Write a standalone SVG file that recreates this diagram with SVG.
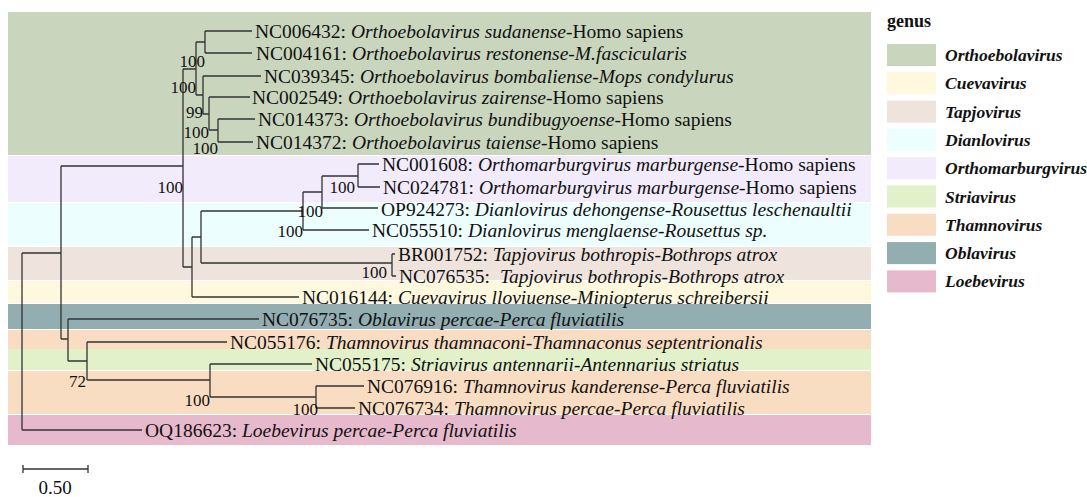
<svg xmlns="http://www.w3.org/2000/svg" width="1087" height="497" viewBox="0 0 1087 497">
<style>
text{font-family:"Liberation Serif","Times New Roman",serif;fill:#111}
.leaf{font-size:19.5px}
.bs{font-size:17px;text-anchor:end}
.i{font-style:italic}
.br{fill:none;stroke:#333;stroke-width:1.3}
.lg{font-size:17.5px;font-weight:bold;font-style:italic}
</style>
<rect width="1087" height="497" fill="#fff"/>
<g id="bands">
<rect x="8" y="12" width="863" height="143" fill="#c9d6bd"/>
<rect x="8" y="156" width="863" height="46" fill="#f1ebfc"/>
<rect x="8" y="203" width="863" height="43" fill="#edfefe"/>
<rect x="8" y="247" width="863" height="33" fill="#efe4dd"/>
<rect x="8" y="281" width="863" height="22" fill="#fef8df"/>
<rect x="8" y="304" width="863" height="25" fill="#92aeb1"/>
<rect x="8" y="330" width="863" height="19" fill="#f9ddc2"/>
<rect x="8" y="349" width="863" height="21" fill="#e2f1c9"/>
<rect x="8" y="371" width="863" height="43" fill="#f9ddc2"/>
<rect x="8" y="415" width="863" height="30" fill="#e6b9cd"/>
</g>
<g id="connectors" class="br">
<path d="M205,31V53M205,31H252M205,53H252M196,42H205"/>
<path d="M196,42V95M203,76H261M203,76V114M196,95H203"/>
<path d="M209,97H250M209,97V130M203,114H209"/>
<path d="M218,119V142M209,130H218M218,119H255M218,142H253"/>
<path d="M183,69H196M183,69V267M61,166H183"/>
<path d="M192,237V297M183,267H192M192,297H299"/>
<path d="M201,211V263M192,237H201M201,263H392M392,254V276M392,254H395M392,276H396"/>
<path d="M303,192V230M201,211H303M303,230H369"/>
<path d="M322,176V208M303,192H322M322,208H378"/>
<path d="M358,164V187M322,176H358M358,164H379M358,187H380"/>
<path d="M61,166V339M22,253H61"/>
<path d="M68,319V361M61,339H68M68,319H259"/>
<path d="M87,342V380M68,361H87M87,342H227"/>
<path d="M210,364V397M87,380H210M210,364H312"/>
<path d="M316,386V408M210,397H316M316,386H364M316,408H355"/>
<path d="M22,253V430M22,430H142"/>
</g>
<g id="bootstrap">
<text class="bs" x="205" y="67">100</text>
<text class="bs" x="196" y="93">100</text>
<text class="bs" x="203" y="118">99</text>
<text class="bs" x="209" y="138">100</text>
<text class="bs" x="218" y="154">100</text>
<text class="bs" x="183" y="193">100</text>
<text class="bs" x="355" y="193">100</text>
<text class="bs" x="323" y="217">100</text>
<text class="bs" x="303" y="237">100</text>
<text class="bs" x="387" y="278">100</text>
<text class="bs" x="86" y="387">72</text>
<text class="bs" x="210" y="406">100</text>
<text class="bs" x="318" y="415">100</text>
</g>
<g id="NC006432"><text class="leaf" x="255" y="37.5">NC006432: <tspan class="i">Orthoebolavirus sudanense</tspan>-Homo sapiens</text></g>
<g id="NC004161"><text class="leaf" x="256" y="59.5">NC004161: <tspan class="i">Orthoebolavirus restonense-M.fascicularis</tspan></text></g>
<g id="NC039345"><text class="leaf" x="264" y="82.5">NC039345: <tspan class="i">Orthoebolavirus bombaliense-Mops condylurus</tspan></text></g>
<g id="NC002549"><text class="leaf" x="252" y="103.5">NC002549: <tspan class="i">Orthoebolavirus zairense</tspan>-Homo sapiens</text></g>
<g id="NC014373"><text class="leaf" x="258" y="125.5">NC014373: <tspan class="i">Orthoebolavirus bundibugyoense</tspan>-Homo sapiens</text></g>
<g id="NC014372"><text class="leaf" x="256" y="148.5">NC014372: <tspan class="i">Orthoebolavirus taiense</tspan>-Homo sapiens</text></g>
<g id="NC001608"><text class="leaf" x="382" y="170.5">NC001608: <tspan class="i">Orthomarburgvirus marburgense</tspan>-Homo sapiens</text></g>
<g id="NC024781"><text class="leaf" x="383" y="193.5">NC024781: <tspan class="i">Orthomarburgvirus marburgense</tspan>-Homo sapiens</text></g>
<g id="OP924273"><text class="leaf" x="381" y="215.5">OP924273: <tspan class="i">Dianlovirus dehongense-Rousettus leschenaultii</tspan></text></g>
<g id="NC055510"><text class="leaf" x="372" y="236.5">NC055510: <tspan class="i">Dianlovirus menglaense-Rousettus sp.</tspan></text></g>
<g id="BR001752"><text class="leaf" x="398" y="260.5">BR001752: <tspan class="i">Tapjovirus bothropis-Bothrops atrox</tspan></text></g>
<g id="NC076535"><text class="leaf" x="399" y="282.5">NC076535: <tspan class="i" dx="5">Tapjovirus bothropis-Bothrops atrox</tspan></text></g>
<g id="NC016144"><text class="leaf" x="302" y="303.5">NC016144: <tspan class="i">Cuevavirus lloviuense-Miniopterus schreibersii</tspan></text></g>
<g id="NC076735"><text class="leaf" x="262" y="325.5">NC076735: <tspan class="i">Oblavirus percae-Perca fluviatilis</tspan></text></g>
<g id="NC055176"><text class="leaf" x="230" y="348.5">NC055176: <tspan class="i">Thamnovirus thamnaconi-Thamnaconus septentrionalis</tspan></text></g>
<g id="NC055175"><text class="leaf" x="315" y="370.5">NC055175: <tspan class="i">Striavirus antennarii-Antennarius striatus</tspan></text></g>
<g id="NC076916"><text class="leaf" x="367" y="392.5">NC076916: <tspan class="i">Thamnovirus kanderense-Perca fluviatilis</tspan></text></g>
<g id="NC076734"><text class="leaf" x="358" y="414.5">NC076734: <tspan class="i">Thamnovirus percae-Perca fluviatilis</tspan></text></g>
<g id="OQ186623"><text class="leaf" x="145" y="436.5">OQ186623: <tspan class="i">Loebevirus percae-Perca fluviatilis</tspan></text></g>
<g id="legend">
<text x="887" y="27" style="font-size:18px;font-weight:bold">genus</text>
<rect x="887" y="44" width="49" height="22" fill="#c9d6bd"/><text class="lg" x="945" y="61">Orthoebolavirus</text>
<rect x="887" y="72.3" width="49" height="22" fill="#fef8df"/><text class="lg" x="945" y="89.3">Cuevavirus</text>
<rect x="887" y="100.6" width="49" height="22" fill="#efe4dd"/><text class="lg" x="945" y="117.6">Tapjovirus</text>
<rect x="887" y="128.9" width="49" height="22" fill="#edfefe"/><text class="lg" x="945" y="145.9">Dianlovirus</text>
<rect x="887" y="157.2" width="49" height="22" fill="#f1ebfc"/><text class="lg" x="945" y="174.2">Orthomarburgvirus</text>
<rect x="887" y="185.5" width="49" height="22" fill="#e2f1c9"/><text class="lg" x="945" y="202.5">Striavirus</text>
<rect x="887" y="213.8" width="49" height="22" fill="#f9ddc2"/><text class="lg" x="945" y="230.8">Thamnovirus</text>
<rect x="887" y="242.1" width="49" height="22" fill="#92aeb1"/><text class="lg" x="945" y="259.1">Oblavirus</text>
<rect x="887" y="270.4" width="49" height="22" fill="#e6b9cd"/><text class="lg" x="945" y="287.4">Loebevirus</text>
</g>
<g id="scale">
<path class="br" d="M23,469H88M23,465V473M88,465V473"/>
<text x="55" y="494" style="font-size:19px;text-anchor:middle">0.50</text>
</g>
</svg>
